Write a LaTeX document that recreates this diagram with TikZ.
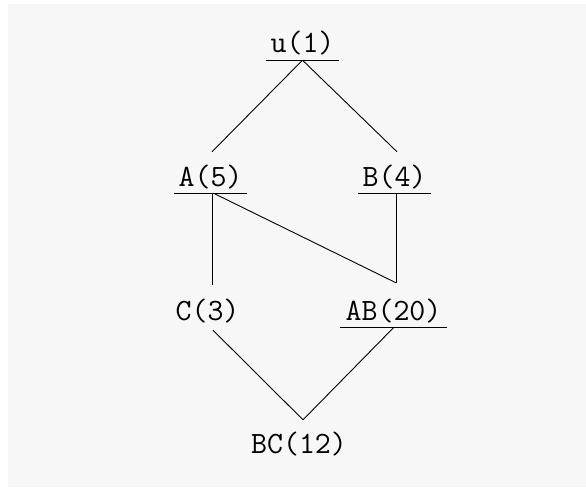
\documentclass[tikz,border=0pt]{standalone}
\definecolor{bgc}{RGB}{247,247,247}
\begin{document}
\begin{tikzpicture}[x=1pt,y=-1pt,
  lbl/.style={font=\ttfamily\fontsize{31}{31}\selectfont, inner xsep=4pt, inner ysep=0pt,
    text height=18pt, text depth=7.5pt, anchor=base},
  uline/.style={line width=1pt},
  edge/.style={line width=0.9pt}]
\useasboundingbox (0,0) rectangle (586,487);
\fill[white] (0,0) rectangle (586,487);
\fill[bgc] (8,4) rectangle (586,487);
\node[lbl] (u) at (302.5,52.5) {u(1)};
\node[lbl] (A) at (210.5,186) {A(5)};
\node[lbl] (B) at (394.5,186) {B(4)};
\node[lbl] (C) at (207.5,320) {C(3)};
\node[lbl, inner xsep=5pt] (AB) at (393.5,320) {AB(20)};
\node[lbl] (BC) at (299,453) {BC(12)};
\foreach \n in {u,A,B,AB} \draw[uline] (\n.south west) -- (\n.south east);
\draw[edge] (u.south) -- ([xshift=1.5pt,yshift=16pt]A.north);
\draw[edge] (u.south) -- ([xshift=2.5pt,yshift=16pt]B.north);
\draw[edge] ([xshift=1.5pt]A.south) -- ([xshift=4.5pt,yshift=17pt]C.north);
\draw[edge] ([xshift=4pt]A.south) -- ([xshift=2.5pt,yshift=19pt]AB.north);
\draw[edge] ([xshift=1.5pt]B.south) -- ([xshift=2.5pt,yshift=19pt]AB.north);
\draw[edge] ([xshift=5.5pt,yshift=-2.5pt]C.south) -- ([xshift=4pt,yshift=15pt]BC.north);
\draw[edge] (AB.south) -- ([xshift=4pt,yshift=15pt]BC.north);
\end{tikzpicture}
\end{document}
